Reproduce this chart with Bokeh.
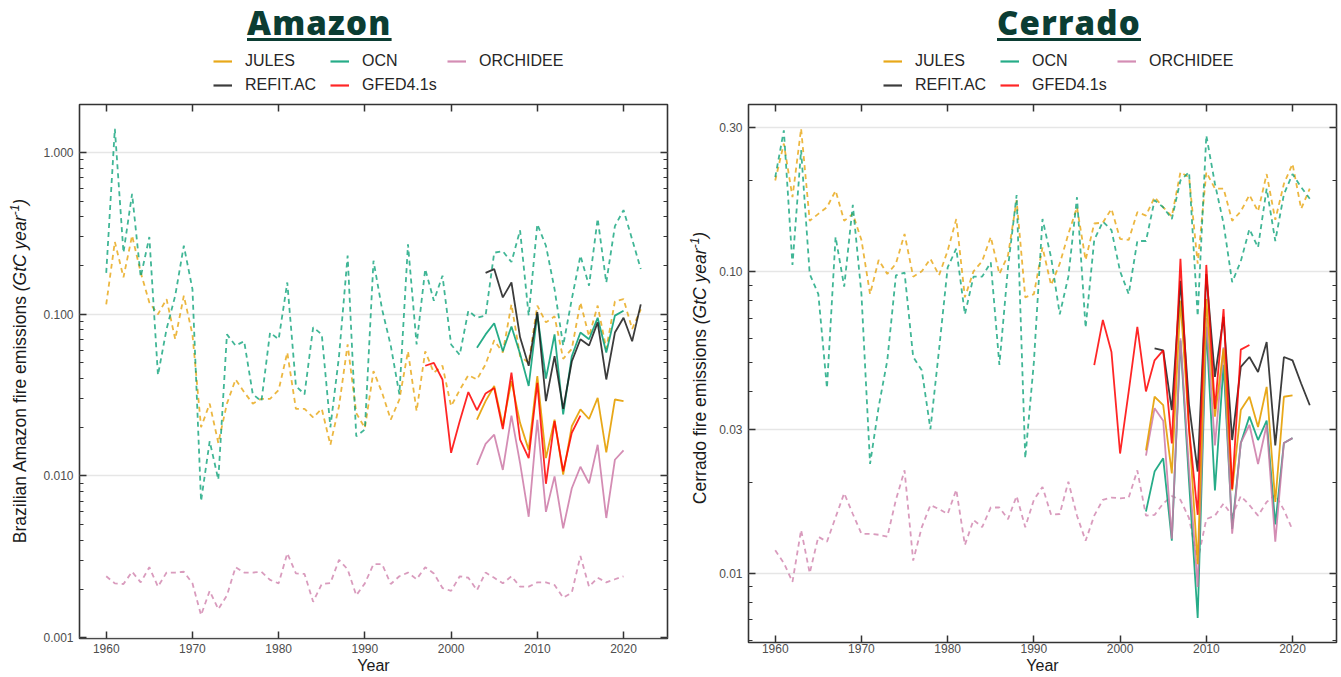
from bokeh.plotting import figure
from bokeh.models import (FixedTicker, CustomJSTickFormatter, LogAxis, LinearAxis,
                          Legend, LegendItem, Div, Range1d, CustomLabelingPolicy)
from bokeh.layouts import row, column
from bokeh.embed import file_html
from bokeh.resources import INLINE

# ---------------- data ----------------
YEARS_FULL = list(range(1960, 2023))
YEARS_ORC = list(range(1960, 2021))
YEARS_MOD = list(range(2003, 2021))
YEARS_REFIT = list(range(2004, 2023))
YEARS_GFED = list(range(1997, 2016))

X_TICKS = [1960, 1970, 1980, 1990, 2000, 2010, 2020]
AM_Y_TICKS = [0.001, 0.01, 0.1, 1.0]
CE_Y_TICKS = [0.01, 0.03, 0.1, 0.3]
SERIES_NAMES = ["JULES", "OCN", "ORCHIDEE", "REFIT.AC", "GFED4.1s"]

# Amazon, long (dashed) simulations
am_jules_long = [0.115, 0.28, 0.169, 0.306, 0.181, 0.118, 0.10, 0.124, 0.07, 0.13,
                 0.075, 0.020, 0.028, 0.016, 0.028, 0.0395, 0.033, 0.028, 0.030, 0.030,
                 0.034, 0.058, 0.026, 0.026, 0.023, 0.026, 0.0156, 0.027, 0.065, 0.0245,
                 0.0198, 0.0445, 0.0327, 0.0223, 0.0297, 0.059, 0.0252, 0.059, 0.0435, 0.048,
                 0.027, 0.034, 0.042, 0.0395, 0.049, 0.069, 0.058, 0.115, 0.055, 0.05,
                 0.113, 0.089, 0.097, 0.053, 0.061, 0.118, 0.073, 0.113, 0.061, 0.12,
                 0.124, 0.081, 0.107]
am_ocn_long = [0.18, 1.40, 0.24, 0.555, 0.17, 0.30, 0.042, 0.081, 0.13, 0.265,
               0.143, 0.007, 0.0164, 0.0095, 0.075, 0.064, 0.068, 0.032, 0.029, 0.077,
               0.070, 0.157, 0.036, 0.032, 0.083, 0.075, 0.020, 0.055, 0.23, 0.0176,
               0.0194, 0.214, 0.107, 0.064, 0.032, 0.27, 0.065, 0.19, 0.121, 0.173,
               0.065, 0.056, 0.105, 0.095, 0.098, 0.24, 0.245, 0.21, 0.33, 0.098,
               0.36, 0.265, 0.143, 0.064, 0.124, 0.23, 0.15, 0.39, 0.157, 0.35,
               0.44, 0.29, 0.19]
am_orc_long = [0.0024, 0.00217, 0.00215, 0.00256, 0.0022, 0.00273, 0.00207, 0.00253, 0.00253, 0.00256,
               0.00217, 0.00138, 0.00195, 0.0015, 0.00183, 0.00273, 0.00253, 0.00253, 0.00256, 0.00228,
               0.00217, 0.00333, 0.0025, 0.00248, 0.00167, 0.00215, 0.00218, 0.00303, 0.00265, 0.00183,
               0.00217, 0.00285, 0.00285, 0.00215, 0.0024, 0.00253, 0.0023, 0.00273, 0.0025, 0.00203,
               0.00195, 0.0024, 0.00235, 0.00197, 0.00253, 0.00235, 0.00217, 0.0024, 0.00207, 0.00207,
               0.0022, 0.0022, 0.00212, 0.00177, 0.0019, 0.0032, 0.00207, 0.00235, 0.0022, 0.0023,
               0.0024]
# Amazon, recent (solid)
am_jules = [0.0223, 0.029, 0.036, 0.0205, 0.0386, 0.0213, 0.0145, 0.0415, 0.0129, 0.0223,
            0.0102, 0.0203, 0.0258, 0.0225, 0.0304, 0.014, 0.0297, 0.029]
am_ocn = [0.062, 0.075, 0.088, 0.059, 0.084, 0.057, 0.036, 0.10, 0.040, 0.075,
          0.024, 0.055, 0.077, 0.070, 0.095, 0.058, 0.098, 0.105]
am_orc = [0.0117, 0.0158, 0.018, 0.0109, 0.0236, 0.012, 0.0056, 0.0222, 0.006, 0.00995,
          0.00475, 0.0084, 0.0114, 0.009, 0.0156, 0.0055, 0.0126, 0.0144]
am_refit = [0.18, 0.19, 0.127, 0.157, 0.072, 0.048, 0.103, 0.029, 0.055, 0.026,
            0.051, 0.07, 0.064, 0.089, 0.0395, 0.077, 0.095, 0.068, 0.115]
am_gfed = [0.048, 0.050, 0.0395, 0.0139, 0.0218, 0.033, 0.0255, 0.0324, 0.035, 0.0195,
           0.0435, 0.0168, 0.0129, 0.0377, 0.00895, 0.0218, 0.0107, 0.0185, 0.0236]

# Cerrado, long (dashed) simulations
ce_jules_long = [0.20, 0.265, 0.176, 0.297, 0.147, 0.155, 0.163, 0.185, 0.147, 0.155,
                 0.127, 0.084, 0.109, 0.098, 0.106, 0.133, 0.096, 0.10, 0.110, 0.097,
                 0.117, 0.149, 0.082, 0.10, 0.108, 0.130, 0.098, 0.113, 0.172, 0.082,
                 0.084, 0.12, 0.09, 0.106, 0.133, 0.163, 0.109, 0.144, 0.145, 0.161,
                 0.128, 0.127, 0.157, 0.153, 0.176, 0.163, 0.152, 0.213, 0.205, 0.106,
                 0.213, 0.188, 0.188, 0.147, 0.158, 0.179, 0.158, 0.21, 0.148, 0.195,
                 0.227, 0.161, 0.188]
ce_ocn_long = [0.205, 0.293, 0.105, 0.252, 0.098, 0.084, 0.041, 0.13, 0.089, 0.166,
               0.084, 0.023, 0.0356, 0.0507, 0.097, 0.099, 0.052, 0.047, 0.030, 0.055,
               0.103, 0.119, 0.072, 0.096, 0.096, 0.107, 0.049, 0.103, 0.179, 0.024,
               0.05, 0.149, 0.111, 0.072, 0.096, 0.176, 0.065, 0.127, 0.146, 0.137,
               0.10, 0.084, 0.126, 0.126, 0.172, 0.163, 0.149, 0.20, 0.213, 0.071,
               0.282, 0.195, 0.144, 0.092, 0.108, 0.138, 0.12, 0.188, 0.126, 0.18,
               0.21, 0.19, 0.174]
ce_orc_long = [0.0119, 0.0108, 0.00935, 0.0139, 0.010, 0.0132, 0.0127, 0.0153, 0.0184, 0.0157,
               0.0135, 0.0135, 0.0134, 0.0132, 0.0175, 0.0219, 0.011, 0.0142, 0.0168, 0.0163,
               0.0157, 0.0189, 0.0124, 0.015, 0.0142, 0.0165, 0.0165, 0.0151, 0.018, 0.0142,
               0.0175, 0.0193, 0.0156, 0.0157, 0.0201, 0.0155, 0.0128, 0.0155, 0.0175, 0.0178,
               0.0177, 0.0178, 0.0219, 0.0155, 0.0156, 0.017, 0.018, 0.0175, 0.0152, 0.011,
               0.0151, 0.0155, 0.017, 0.0155, 0.018, 0.0168, 0.0155, 0.0172, 0.0182, 0.0162,
               0.0139]
# Cerrado, recent (solid)
ce_jules = [0.0255, 0.0384, 0.036, 0.0214, 0.080, 0.030, 0.0107, 0.081, 0.033, 0.0555,
            0.0188, 0.0347, 0.0384, 0.0305, 0.0414, 0.0172, 0.0384, 0.0388]
ce_ocn = [0.016, 0.0217, 0.024, 0.0128, 0.059, 0.020, 0.0071, 0.0655, 0.0188, 0.049,
          0.014, 0.027, 0.033, 0.0276, 0.032, 0.0145, 0.027, 0.028]
ce_orc = [0.0245, 0.0352, 0.032, 0.013, 0.060, 0.022, 0.009, 0.070, 0.0265, 0.056,
          0.0135, 0.027, 0.031, 0.023, 0.031, 0.0127, 0.027, 0.028]
ce_refit = [0.0555, 0.0547, 0.0347, 0.093, 0.036, 0.0217, 0.098, 0.0447, 0.0706, 0.0276,
            0.0482, 0.052, 0.0464, 0.0583, 0.0265, 0.052, 0.0507, 0.0425, 0.036]
ce_gfed = [0.0489, 0.069, 0.054, 0.0249, 0.040, 0.0655, 0.040, 0.0507, 0.0547, 0.0269,
           0.110, 0.030, 0.0156, 0.105, 0.035, 0.075, 0.019, 0.055, 0.057]

COLORS = {"JULES": "#E69F00", "OCN": "#009E73", "ORCHIDEE": "#CC79A7",
          "REFIT.AC": "#1a1a1a", "GFED4.1s": "#FF0000"}
ALPHAS = {"JULES": 0.9, "OCN": 0.85, "ORCHIDEE": 0.85, "REFIT.AC": 0.85, "GFED4.1s": 0.85}

FONT = "Liberation Sans"
NO_LABELS = "for (const i of Array.from(indices)) { indices.unset(i) }\nreturn indices"


def tick_only_axis(cls, ticker):
    return cls(ticker=ticker,
               major_label_policy=CustomLabelingPolicy(code=NO_LABELS),
               major_label_text_font_size="1px", major_label_standoff=0,
               axis_line_color=None, major_tick_in=7, major_tick_out=0,
               minor_tick_in=4, minor_tick_out=0,
               major_tick_line_color="#333333", minor_tick_line_color="#333333",
               major_tick_line_width=1.5)


def make_panel(long_series, solid_series, y_ticks, y_minor, digits, y_lo, y_hi,
               width, height, border_left, border_right, border_bottom, x_std):
    p = figure(width=width, height=height, y_axis_type="log",
               x_range=Range1d(1956.9, 2025.1), y_range=Range1d(y_lo, y_hi),
               output_backend="svg", toolbar_location=None,
               min_border_left=border_left, min_border_right=border_right,
               min_border_bottom=border_bottom, min_border_top=4)
    p.background_fill_color = "white"
    p.border_fill_color = "white"
    p.outline_line_color = "#333333"
    p.outline_line_width = 1.6

    p.xgrid.visible = False
    p.ygrid.ticker = FixedTicker(ticks=y_ticks)
    p.ygrid.grid_line_color = "#e6e6e6"
    p.ygrid.grid_line_width = 1.6

    yax = p.yaxis[0]
    yax.ticker = FixedTicker(ticks=y_ticks, minor_ticks=y_minor)
    yax.formatter = CustomJSTickFormatter(code="return tick.toFixed(%d)" % digits)
    yax.major_label_text_font = FONT
    yax.major_label_text_font_size = "12px"
    yax.major_label_text_color = "#4d4d4d"
    yax.major_label_standoff = 6
    yax.axis_line_color = None
    yax.major_tick_in = 7
    yax.major_tick_out = 0
    yax.minor_tick_in = 4
    yax.minor_tick_out = 0
    yax.major_tick_line_color = "#333333"
    yax.minor_tick_line_color = "#333333"
    yax.major_tick_line_width = 1.5

    xax = p.xaxis[0]
    xax.ticker = FixedTicker(ticks=X_TICKS, minor_ticks=[])
    xax.axis_label = "Year"
    xax.axis_label_text_font = FONT
    xax.axis_label_text_font_size = "16px"
    xax.axis_label_text_font_style = "normal"
    xax.axis_label_text_color = "#1a1a1a"
    xax.axis_label_standoff = 1
    xax.major_label_text_font = FONT
    xax.major_label_text_font_size = "12px"
    xax.major_label_text_color = "#4d4d4d"
    xax.major_label_standoff = x_std
    xax.axis_line_color = None
    xax.major_tick_in = 7
    xax.major_tick_out = 0
    xax.major_tick_line_color = "#333333"
    xax.major_tick_line_width = 1.5

    p.add_layout(tick_only_axis(LogAxis, FixedTicker(ticks=y_ticks, minor_ticks=y_minor)), "right")
    p.add_layout(tick_only_axis(LinearAxis, FixedTicker(ticks=X_TICKS, minor_ticks=[])), "above")

    for yrs, vals, col in long_series:
        p.line(yrs, vals, line_color=col, line_width=1.8, line_alpha=0.75, line_dash="5 4")
    for name, yrs, vals in solid_series:
        p.line(yrs, vals, line_color=COLORS[name], line_width=1.8, line_alpha=ALPHAS[name])
    return p


def make_legend_fig(width, height, dx, vy):
    lf = figure(width=width, height=height, output_backend="svg", toolbar_location=None,
                x_range=Range1d(0, 1), y_range=Range1d(0, 1), min_border=0,
                x_axis_location=None, y_axis_location=None)
    lf.grid.visible = False
    lf.outline_line_color = None
    items = []
    for name in SERIES_NAMES:
        r = lf.line(x=[float("nan")], y=[float("nan")], line_color=COLORS[name],
                    line_width=2.2, line_alpha=ALPHAS[name])
        items.append(LegendItem(label=name, renderers=[r]))
    leg = Legend(items=items, orientation="horizontal", ncols=3,
                 location=(dx, vy), margin=0, padding=0,
                 border_line_color=None, background_fill_alpha=0,
                 glyph_width=19, glyph_height=16, label_height=16, label_width=79,
                 label_standoff=13, spacing=6,
                 label_text_font=FONT, label_text_font_size="16px",
                 label_text_color="#262626")
    lf.add_layout(leg, "center")
    return lf


def ylabel_div(text, width, height, center_y):
    html = ('<div style="position:relative;width:%dpx;height:%dpx;">'
            '<div style="position:absolute;left:%dpx;top:%dpx;transform:translate(-50%%,-50%%) rotate(-90deg);'
            'white-space:nowrap;font-family:\'Liberation Sans\';font-size:17.5px;color:#1a1a1a;">'
            '%s <i>(GtC year<sup style="font-size:12px">-1</sup>)</i></div></div>'
            % (width, height, width // 2, center_y, text))
    return Div(text=html, width=width, height=height, margin=0)


def title_div(text, width, pad):
    css = ("font-family:'Open Sans';font-weight:800;font-size:33px;color:#0b3d33;"
           "letter-spacing:1.2px;text-decoration:underline;text-decoration-thickness:3px;"
           "text-underline-offset:3px;line-height:46px;white-space:nowrap;padding-left:%dpx" % pad)
    return Div(text='<div style="%s">%s</div>' % (css, text), width=width, height=48, margin=0)


am_minor = [m * 10.0 ** e for e in range(-3, 1) for m in range(2, 10)]
ce_minor = [m * 10.0 ** e for e in range(-3, 0) for m in (2, 4, 5, 6, 7, 8, 9)]

left = make_panel(
    long_series=[(YEARS_ORC, am_orc_long, COLORS["ORCHIDEE"]), (YEARS_FULL, am_jules_long, COLORS["JULES"]),
                 (YEARS_FULL, am_ocn_long, COLORS["OCN"])],
    solid_series=[("OCN", YEARS_MOD, am_ocn), ("ORCHIDEE", YEARS_MOD, am_orc),
                  ("JULES", YEARS_MOD, am_jules), ("REFIT.AC", YEARS_REFIT, am_refit),
                  ("GFED4.1s", YEARS_GFED, am_gfed)],
    y_ticks=AM_Y_TICKS, y_minor=am_minor, digits=3, y_lo=0.00099, y_hi=1.977,
    width=648, height=577, border_left=38, border_right=21, border_bottom=39, x_std=5)

right = make_panel(
    long_series=[(YEARS_ORC, ce_orc_long, COLORS["ORCHIDEE"]), (YEARS_FULL, ce_jules_long, COLORS["JULES"]),
                 (YEARS_FULL, ce_ocn_long, COLORS["OCN"])],
    solid_series=[("OCN", YEARS_MOD, ce_ocn), ("ORCHIDEE", YEARS_MOD, ce_orc),
                  ("JULES", YEARS_MOD, ce_jules), ("REFIT.AC", YEARS_REFIT, ce_refit),
                  ("GFED4.1s", YEARS_GFED, ce_gfed)],
    y_ticks=CE_Y_TICKS, y_minor=ce_minor, digits=2, y_lo=0.00589, y_hi=0.357,
    width=629, height=577, border_left=36, border_right=3, border_bottom=35, x_std=1)

left_block = column(
    title_div("Amazon", 688, 247),
    row(ylabel_div("Brazilian Amazon fire emissions", 40, 629, 323),
        column(make_legend_fig(648, 52, 134, 6), left, spacing=0), spacing=0),
    spacing=0)
right_block = column(
    title_div("Cerrado", 653, 309),
    row(ylabel_div("Cerrado fire emissions", 24, 629, 320),
        column(make_legend_fig(629, 52, 135, 6), right, spacing=0), spacing=0),
    spacing=0)

layout = row(left_block, right_block, spacing=0)

open("out.html", "w").write(file_html(layout, INLINE))
